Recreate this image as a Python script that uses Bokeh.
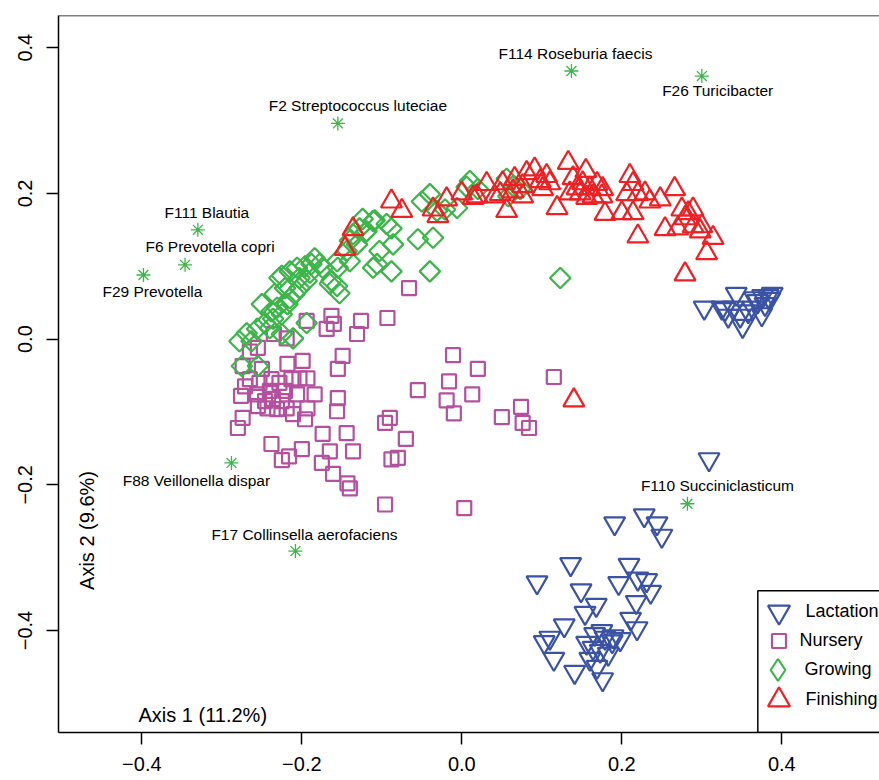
import math
from bokeh.plotting import figure
from bokeh.models import (Range1d, Span, BoxAnnotation, Label, Legend, LegendItem,
                          FixedTicker, CustomJSTickFormatter, ColumnDataSource)
from bokeh.core.properties import value
from bokeh.embed import file_html
from bokeh.resources import INLINE

# ---------------- data ----------------
lact_x = [0.303, 0.343, 0.329, 0.333, 0.351, 0.348, 0.358, 0.366, 0.376, 0.383, 0.379, 0.375,
          0.364, 0.388, 0.370, 0.339, 0.325, 0.385,
          0.309,
          0.191, 0.228, 0.244, 0.250, 0.136, 0.094, 0.209, 0.196, 0.220, 0.231, 0.236, 0.149,
          0.168, 0.218, 0.154, 0.211, 0.219, 0.128, 0.110, 0.103, 0.115, 0.141, 0.176, 0.169,
          0.156, 0.166, 0.179, 0.188, 0.198, 0.173, 0.183, 0.164, 0.175, 0.189, 0.160]
lact_y = [0.043, 0.062, 0.041, 0.032, 0.018, 0.032, 0.038, 0.056, 0.059, 0.059, 0.048, 0.034,
          0.043, 0.062, 0.052, 0.043, 0.043, 0.055,
          -0.165,
          -0.253, -0.242, -0.253, -0.270, -0.309, -0.334, -0.310, -0.335, -0.329, -0.331, -0.347, -0.345,
          -0.365, -0.361, -0.376, -0.384, -0.397, -0.393, -0.410, -0.416, -0.439, -0.457, -0.467, -0.450,
          -0.417, -0.405, -0.410, -0.415, -0.412, -0.428, -0.432, -0.424, -0.401, -0.408, -0.439]

nurs_x = [-0.194, -0.163, -0.160, -0.126, -0.131, -0.093, -0.169, -0.219, -0.235, -0.255, -0.265,
          -0.149, -0.155, -0.218, -0.199, -0.274, -0.250, -0.253, -0.238, -0.228, -0.213, -0.203,
          -0.193, -0.276, -0.256, -0.246, -0.236, -0.225, -0.219, -0.206, -0.184, -0.155, -0.255,
          -0.243, -0.231, -0.211, -0.193, -0.156, -0.196, -0.274, -0.280, -0.238, -0.225, -0.216,
          -0.200, -0.174, -0.144, -0.136, -0.165, -0.175, -0.161, -0.143, -0.140, -0.096, -0.090,
          -0.096, -0.088, -0.080, -0.070, -0.011, 0.020, -0.016, -0.055, 0.013, -0.019, -0.010,
          0.050, 0.074, 0.076, 0.084, 0.115, 0.003, -0.066, -0.271, -0.240, -0.221, -0.265]
nurs_y = [0.025, 0.032, 0.021, 0.025, 0.007, 0.029, 0.014, 0.001, 0.007, -0.012, -0.017,
          -0.023, -0.041, -0.034, -0.030, -0.037, -0.041, -0.060, -0.055, -0.060, -0.055, -0.054,
          -0.054, -0.078, -0.076, -0.085, -0.082, -0.085, -0.095, -0.076, -0.076, -0.081, -0.092,
          -0.095, -0.096, -0.103, -0.095, -0.099, -0.110, -0.108, -0.122, -0.144, -0.166, -0.161,
          -0.151, -0.130, -0.129, -0.154, -0.154, -0.170, -0.185, -0.198, -0.205, -0.227, -0.108,
          -0.115, -0.165, -0.163, -0.137, -0.022, -0.041, -0.058, -0.070, -0.076, -0.084, -0.102,
          -0.107, -0.093, -0.115, -0.122, -0.052, -0.232, 0.070, -0.065, -0.071, -0.071, -0.055]

grow_x = [-0.040, -0.050, -0.031, -0.006, -0.088, -0.094, -0.111, -0.124, -0.128, -0.136, -0.119,
          -0.055, -0.036, -0.086, -0.103, -0.111, -0.088, -0.040, -0.156, -0.184, -0.188, -0.174,
          -0.215, -0.228, -0.203, -0.194, -0.221, -0.234, -0.215, -0.250, -0.231, -0.225, -0.269,
          -0.240, -0.194, -0.140, -0.144, -0.131, -0.156, -0.163, -0.153, 0.123, -0.021, 0.010,
          0.020, 0.056, 0.064, 0.073, 0.058, -0.206, -0.196, -0.190, -0.203, -0.209, -0.218,
          -0.238, -0.236, -0.246, -0.256, -0.278, -0.263, -0.225, -0.211, -0.165, -0.155, -0.140,
          -0.275, -0.255, -0.109, -0.121, -0.225, -0.178, 0.006, -0.106]
grow_y = [0.199, 0.189, 0.176, 0.180, 0.152, 0.158, 0.162, 0.165, 0.152, 0.144, 0.148,
          0.137, 0.139, 0.130, 0.121, 0.098, 0.093, 0.093, 0.073, 0.111, 0.103, 0.098,
          0.093, 0.084, 0.084, 0.080, 0.070, 0.062, 0.056, 0.048, 0.043, 0.034, 0.008,
          0.015, 0.022, 0.135, 0.121, 0.130, 0.107, 0.080, 0.063, 0.084, 0.178, 0.217,
          0.206, 0.220, 0.210, 0.206, 0.196, 0.098, 0.100, 0.091, 0.070, 0.062, 0.048,
          0.038, 0.028, 0.022, 0.014, -0.003, -0.003, 0.007, 0.001, 0.076, 0.098, 0.107,
          -0.037, -0.037, 0.163, 0.146, 0.087, 0.103, 0.209, 0.103]

fin_x = [0.133, 0.155, 0.091, 0.081, 0.106, 0.098, 0.110, 0.051, 0.031, 0.066, 0.076, 0.064,
         0.048, 0.019, 0.076, 0.101, 0.056, 0.119, 0.139, 0.144, 0.151, 0.160, 0.148, 0.135,
         0.169, 0.176, 0.164, 0.175, 0.156, 0.210, 0.214, 0.206, 0.220, 0.229, 0.235, 0.248,
         0.266, 0.200, 0.214, 0.179, 0.220, 0.254, 0.270, 0.275, 0.283, 0.289, 0.289, 0.300,
         0.298, 0.314, 0.306, 0.279, -0.088, -0.075, -0.019, -0.030, -0.036, 0.000, 0.014,
         0.041, 0.279, 0.140, -0.136, -0.146]
fin_y = [0.242, 0.231, 0.233, 0.228, 0.224, 0.217, 0.214, 0.214, 0.213, 0.220, 0.210, 0.203,
         0.199, 0.196, 0.196, 0.206, 0.176, 0.180, 0.221, 0.207, 0.214, 0.207, 0.200, 0.200,
         0.213, 0.206, 0.196, 0.196, 0.194, 0.224, 0.213, 0.199, 0.199, 0.200, 0.189, 0.192,
         0.206, 0.173, 0.173, 0.172, 0.141, 0.151, 0.152, 0.178, 0.173, 0.178, 0.155, 0.155,
         0.148, 0.139, 0.118, 0.166, 0.189, 0.176, 0.192, 0.169, 0.178, 0.200, 0.194,
         0.196, 0.089, -0.084, 0.151, 0.124]

species = ["F114 Roseburia faecis", "F26 Turicibacter", "F2 Streptococcus luteciae",
           "F111 Blautia", "F6 Prevotella copri", "F29 Prevotella",
           "F88 Veillonella dispar", "F17 Collinsella aerofaciens", "F110 Succiniclasticum"]
species_x = [0.137, 0.300, -0.155, -0.330, -0.346, -0.398, -0.288, -0.208, 0.282]
species_y = [0.368, 0.361, 0.296, 0.150, 0.102, 0.088, -0.170, -0.291, -0.226]

groups = ["Lactation", "Nursery", "Growing", "Finishing"]
x_ticks = [-0.4, -0.2, 0.0, 0.2, 0.4]
y_ticks = [-0.4, -0.2, 0.0, 0.2, 0.4]
x_title = "Axis 1 (11.2%)"
y_title = "Axis 2 (9.6%)"

# ---------------- styling ----------------
BLUE = "#3A53A4"
MAGENTA = "#B4519E"
GREEN = "#3DB54A"
RED = "#EE2024"
FONT = "Liberation Sans"
LW = 2.2

X0, X1 = -0.5042, 0.5221
Y0, Y1 = -0.540, 0.4442

p = figure(width=879, height=780, output_backend="svg", toolbar_location=None,
           x_range=Range1d(X0, X1), y_range=Range1d(Y0, Y1),
           min_border_left=58, min_border_right=0, min_border_top=15, min_border_bottom=48)
p.grid.visible = False
p.outline_line_color = None
p.background_fill_color = "white"
p.border_fill_color = "white"

fmt = CustomJSTickFormatter(code="return tick.toFixed(1).replace('-', '\u2212');")
for ax, ticks in ((p.xaxis[0], x_ticks), (p.yaxis[0], y_ticks)):
    ax.ticker = FixedTicker(ticks=ticks)
    ax.formatter = fmt
    ax.major_tick_out = 12
    ax.major_tick_in = 0
    ax.minor_tick_line_color = None
    ax.axis_line_width = 1.5
    ax.axis_line_color = "black"
    ax.major_tick_line_width = 1.5
    ax.major_tick_line_color = "black"
    ax.major_label_text_font = FONT
    ax.major_label_text_font_size = "20px"
    ax.major_label_text_color = "black"
p.yaxis[0].major_label_orientation = "vertical"
p.yaxis[0].major_label_standoff = 14
p.xaxis[0].major_label_standoff = 12

# top frame line
p.add_layout(Span(location=Y1, dimension="width", line_color="black", line_width=1.5))

r_lact = p.scatter(lact_x, lact_y, marker="inverted_triangle", size=21, fill_color=None,
                   line_color=BLUE, line_width=LW)
r_nurs = p.scatter(nurs_x, nurs_y, marker="square", size=14, fill_color=None,
                   line_color=MAGENTA, line_width=LW)
r_grow = p.scatter(grow_x, grow_y, marker="square", angle=math.pi / 4, size=14.5, fill_color=None,
                   line_color=GREEN, line_width=LW)
r_fin = p.scatter(fin_x, fin_y, marker="triangle", size=21, fill_color=None,
                  line_color=RED, line_width=LW)
# legend-only key for the diamond (legend keys are drawn unrotated)
r_grow_key = p.scatter([math.nan], [math.nan], marker="diamond", size=22, fill_color=None,
                       line_color=GREEN, line_width=LW)

p.scatter(species_x, species_y, marker="asterisk", size=14, line_color=GREEN, line_width=1.3)

label_dx = [4, 16, 20, 9, 25, 9, -35, 9, 30]
label_dy = [-18, 14, -18, -17, -18, 17, 18, -17, -18]
src = ColumnDataSource(dict(x=species_x, y=species_y, text=species, dx=label_dx, dy=label_dy))
p.text(x="x", y="y", text="text", x_offset="dx", y_offset="dy", source=src,
       text_font=value(FONT), text_font_size="15.5px", text_align="center",
       text_baseline="middle", text_color="black")

# axis titles inside the frame
p.add_layout(Label(x=80, y=18, x_units="screen", y_units="screen", text=x_title,
                   text_font=FONT, text_font_size="20px", text_align="left",
                   text_baseline="middle", text_color="black"))
p.add_layout(Label(x=28, y=202, x_units="screen", y_units="screen", text=y_title, angle=math.pi / 2,
                   text_font=FONT, text_font_size="20px", text_align="center",
                   text_baseline="middle", text_color="black"))

# legend frame
p.add_layout(BoxAnnotation(left=0.37, right=5.0, top=-0.3455, bottom=Y0,
                           fill_color=None, fill_alpha=0, line_color="black", line_width=1.5,
                           line_alpha=1))

# legend entries: (renderer, glyph box, x, y, standoff)
legend_specs = [
    (r_lact, 55, 692.5, 93.5, -8),
    (r_nurs, 35, 702.5, 74.5, 4),
    (r_grow_key, 55, 691.5, 35.5, -8),
    (r_fin, 55, 692.5, 5.5, -8),
]
for name, (rend, box, lx, ly, so) in zip(groups, legend_specs):
    lg = Legend(items=[LegendItem(label=name, renderers=[rend])], location=(lx, ly),
                glyph_width=box, glyph_height=box, label_standoff=so, padding=0, margin=0,
                spacing=0, border_line_color=None, background_fill_alpha=0,
                label_text_font=FONT, label_text_font_size="18px", label_text_color="black")
    p.add_layout(lg)

open("out.html", "w").write(file_html(p, INLINE))
